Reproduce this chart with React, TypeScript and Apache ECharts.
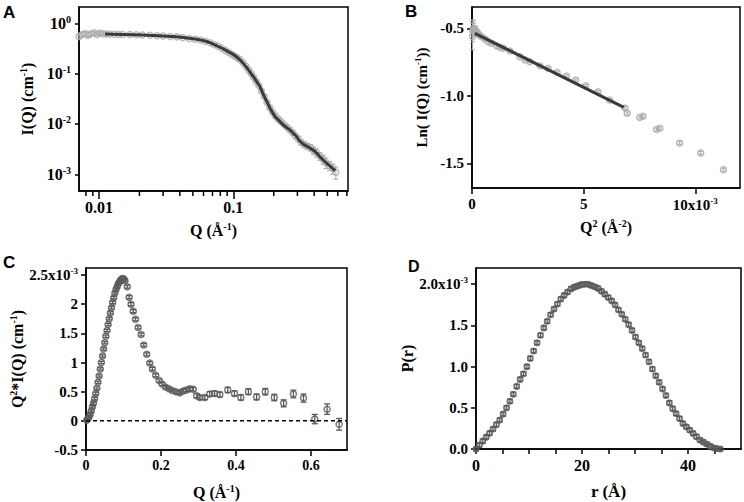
import React, { useEffect, useRef } from "react";
import * as echarts from "echarts";

const SERIF = '"Liberation Serif", "Times New Roman", serif';
const SANS = '"Liberation Sans", Arial, sans-serif';

// ---------------- Panel A : log-log I(Q) ----------------
// [Q (1/Å), I(Q) (1/cm), error]
const pointsA: [number, number, number][] = [
  [0.0071, 0.55, 0.05], [0.0075, 0.6, 0.05], [0.0079, 0.63, 0.05], [0.0083, 0.58, 0.05],
  [0.0087, 0.62, 0.05], [0.0092, 0.65, 0.04], [0.0097, 0.6, 0.04], [0.0102, 0.64, 0.04],
  [0.0107, 0.62, 0.03], [0.0113, 0.612, 0.03], [0.012, 0.61, 0.02], [0.013, 0.607, 0.02],
  [0.014, 0.603, 0.02], [0.015, 0.6, 0.015], [0.017, 0.597, 0.015], [0.019, 0.592, 0.012],
  [0.021, 0.586, 0.012], [0.024, 0.578, 0.01], [0.027, 0.568, 0.01], [0.03, 0.558, 0.01],
  [0.034, 0.548, 0.01], [0.038, 0.538, 0.01], [0.042, 0.52, 0.01], [0.047, 0.5, 0.01],
  [0.052, 0.483, 0.01], [0.057, 0.465, 0.01], [0.062, 0.44, 0.01], [0.067, 0.41, 0.01],
  [0.072, 0.38, 0.008], [0.077, 0.35, 0.008], [0.082, 0.32, 0.008], [0.087, 0.29, 0.006],
  [0.092, 0.265, 0.006], [0.097, 0.243, 0.006], [0.102, 0.225, 0.005], [0.107, 0.208, 0.005],
  [0.112, 0.19, 0.005], [0.118, 0.165, 0.004], [0.124, 0.14, 0.004], [0.13, 0.118, 0.004],
  [0.136, 0.1, 0.003], [0.142, 0.084, 0.003], [0.148, 0.07, 0.003], [0.155, 0.058, 0.002],
  [0.162, 0.045, 0.002], [0.17, 0.035, 0.0015], [0.178, 0.027, 0.0012], [0.187, 0.021, 0.001],
  [0.196, 0.0172, 0.0008], [0.205, 0.0145, 0.0008], [0.215, 0.0127, 0.0007], [0.226, 0.0112, 0.0007],
  [0.238, 0.0098, 0.0006], [0.25, 0.0087, 0.0006], [0.263, 0.0077, 0.0006], [0.277, 0.0067, 0.0006],
  [0.29, 0.0058, 0.0006], [0.305, 0.0051, 0.0006], [0.32, 0.0043, 0.0005], [0.337, 0.0039, 0.0005],
  [0.355, 0.0036, 0.0005], [0.375, 0.0034, 0.0005], [0.395, 0.003, 0.0005], [0.415, 0.0027, 0.0005],
  [0.44, 0.0023, 0.0004], [0.465, 0.002, 0.0004], [0.49, 0.0017, 0.0004], [0.52, 0.0015, 0.0003],
  [0.55, 0.0013, 0.0003], [0.58, 0.0011, 0.0003],
];
// fitted model curve [Q, I]
const fitA: [number, number][] = [
  [0.0111, 0.612], [0.015, 0.6], [0.0211, 0.586], [0.03, 0.562], [0.0374, 0.542], [0.047, 0.505],
  [0.0558, 0.472], [0.0635, 0.435], [0.0703, 0.392], [0.0796, 0.335], [0.0883, 0.29], [0.1, 0.24],
  [0.1095, 0.198], [0.1186, 0.16], [0.13, 0.118], [0.141, 0.087], [0.15, 0.068], [0.158, 0.055],
  [0.165, 0.042], [0.172, 0.033], [0.18, 0.026], [0.1877, 0.0205], [0.196, 0.0168], [0.204, 0.0142],
  [0.215, 0.0122], [0.229, 0.0103], [0.245, 0.0088], [0.264, 0.0076], [0.28, 0.0065], [0.296, 0.0056],
  [0.31, 0.0047], [0.323, 0.0042], [0.34, 0.0038], [0.362, 0.0035], [0.394, 0.003], [0.42, 0.0026],
  [0.443, 0.0022], [0.47, 0.0019], [0.496, 0.00165], [0.53, 0.00142], [0.573, 0.00118],
];
const aXRange = [0.0071, 0.714];
const aYRange = [0.000466, 2.11];
const aXTicks = [0.01, 0.1];
const aXMinorTicks = [0.008, 0.009, 0.02, 0.03, 0.04, 0.05, 0.06, 0.07, 0.08, 0.09, 0.2, 0.3, 0.4, 0.5, 0.6, 0.7];
const aYTicks = [0.001, 0.01, 0.1, 1];

// ---------------- Panel B : Guinier ----------------
// [Q^2 (x10^-3 Å^-2), ln I, error]
const pointsB: [number, number, number][] = [
  [0.02, -0.56, 0.1], [0.04, -0.52, 0.08], [0.06, -0.5, 0.06], [0.08, -0.51, 0.05],
  [0.1, -0.52, 0.04], [0.13, -0.515, 0.035], [0.16, -0.52, 0.03], [0.2, -0.525, 0.025],
  [0.25, -0.535, 0.02], [0.33, -0.55, 0.015], [0.43, -0.562, 0.012], [0.58, -0.579, 0.01],
  [0.73, -0.599, 0.01], [0.88, -0.611, 0.01], [1.1, -0.629, 0.008], [1.25, -0.641, 0.008],
  [1.4, -0.648, 0.008], [1.7, -0.668, 0.008], [2.14, -0.71, 0.008], [2.37, -0.735, 0.008],
  [2.59, -0.747, 0.008], [3.04, -0.777, 0.008], [3.41, -0.797, 0.008], [3.81, -0.826, 0.008],
  [4.23, -0.853, 0.008], [4.64, -0.883, 0.008], [5.09, -0.925, 0.008], [5.64, -0.97, 0.008],
  [6.16, -1.031, 0.008], [6.85, -1.09, 0.01], [6.95, -1.13, 0.01], [7.51, -1.161, 0.01],
  [7.66, -1.151, 0.01], [8.26, -1.25, 0.01], [8.41, -1.24, 0.01], [9.3, -1.349, 0.01],
  [10.24, -1.423, 0.01], [11.26, -1.547, 0.01],
];
const fitB: [number, number][] = [[0.13, -0.537], [6.8, -1.085]];
const bXRange = [0, 12];
const bYRange = [-1.683, -0.342];
const bXTicks = [0, 5, 10];
const bYTicks = [-1.5, -1.0, -0.5];

// ---------------- Panel C : Kratky ----------------
// [Q (1/Å), Q^2*I (x10^-3), error]
const pointsC: [number, number, number][] = [
  [0.002, 0.01, 0.02], [0.005, 0.03, 0.02], [0.008, 0.06, 0.02], [0.011, 0.11, 0.02],
  [0.014, 0.17, 0.02], [0.017, 0.24, 0.02], [0.02, 0.3, 0.02], [0.023, 0.38, 0.02],
  [0.026, 0.47, 0.02], [0.029, 0.56, 0.02], [0.032, 0.66, 0.02], [0.035, 0.77, 0.02],
  [0.038, 0.89, 0.02], [0.041, 1.0, 0.02], [0.044, 1.11, 0.02], [0.047, 1.23, 0.02],
  [0.05, 1.34, 0.02], [0.053, 1.45, 0.02], [0.056, 1.55, 0.02], [0.059, 1.65, 0.02],
  [0.062, 1.75, 0.02], [0.065, 1.85, 0.02], [0.068, 1.94, 0.02], [0.071, 2.03, 0.02],
  [0.074, 2.11, 0.02], [0.077, 2.19, 0.02], [0.08, 2.25, 0.02], [0.083, 2.3, 0.02],
  [0.086, 2.35, 0.02], [0.089, 2.38, 0.02], [0.092, 2.41, 0.02], [0.095, 2.43, 0.02],
  [0.098, 2.44, 0.02], [0.101, 2.43, 0.02], [0.104, 2.4, 0.02], [0.11, 2.3, 0.025],
  [0.115, 2.12, 0.025], [0.12, 2.0, 0.025], [0.126, 1.88, 0.025], [0.132, 1.74, 0.025],
  [0.139, 1.6, 0.025], [0.147, 1.48, 0.025], [0.154, 1.3, 0.025], [0.162, 1.14, 0.025],
  [0.17, 0.99, 0.025], [0.177, 0.89, 0.025], [0.186, 0.78, 0.025], [0.195, 0.69, 0.025],
  [0.203, 0.63, 0.025], [0.212, 0.58, 0.025], [0.221, 0.55, 0.025], [0.23, 0.52, 0.025],
  [0.24, 0.5, 0.03], [0.25, 0.48, 0.03], [0.259, 0.51, 0.03], [0.268, 0.53, 0.03],
  [0.277, 0.55, 0.03], [0.286, 0.54, 0.03], [0.295, 0.43, 0.035], [0.304, 0.4, 0.035],
  [0.317, 0.4, 0.035], [0.33, 0.46, 0.04], [0.343, 0.47, 0.04], [0.357, 0.45, 0.04],
  [0.378, 0.53, 0.045], [0.396, 0.47, 0.045], [0.413, 0.4, 0.045], [0.433, 0.5, 0.05],
  [0.455, 0.41, 0.05], [0.478, 0.5, 0.055], [0.502, 0.4, 0.055], [0.527, 0.3, 0.06],
  [0.553, 0.46, 0.065], [0.58, 0.39, 0.07], [0.61, 0.03, 0.08], [0.643, 0.2, 0.09],
  [0.675, -0.06, 0.1],
];
const cXRange = [0, 0.696];
const cYRange = [-0.5, 2.62];
const cXTicks = [0, 0.2, 0.4, 0.6];
const cYTicks = [-0.5, 0, 0.5, 1, 1.5, 2, 2.5];

// ---------------- Panel D : P(r) ----------------
// [r (Å), P(r) (x10^-3)]
const pointsD: [number, number][] = [
  [0, 0], [0.64, 0.048], [1.28, 0.096], [1.92, 0.144], [2.56, 0.192], [3.2, 0.243],
  [3.84, 0.296], [4.48, 0.353], [5.12, 0.424], [5.76, 0.5], [6.4, 0.58], [7.04, 0.665],
  [7.68, 0.76], [8.32, 0.845], [8.96, 0.913], [9.6, 1.0], [10.24, 1.1], [10.88, 1.19],
  [11.52, 1.29], [12.16, 1.38], [12.8, 1.47], [13.44, 1.55], [14.08, 1.63], [14.72, 1.7],
  [15.36, 1.76], [16.0, 1.82], [16.64, 1.865], [17.28, 1.905], [17.92, 1.945], [18.56, 1.965],
  [19.2, 1.98], [19.84, 1.995], [20.48, 2.0], [21.12, 2.0], [21.76, 1.985], [22.4, 1.97],
  [23.04, 1.95], [23.68, 1.915], [24.32, 1.88], [24.96, 1.84], [25.6, 1.8], [26.24, 1.75],
  [26.88, 1.69], [27.52, 1.635], [28.16, 1.575], [28.8, 1.51], [29.44, 1.44], [30.08, 1.36],
  [30.72, 1.29], [31.36, 1.22], [32.0, 1.14], [32.64, 1.06], [33.28, 0.97], [33.92, 0.89],
  [34.56, 0.81], [35.2, 0.73], [35.84, 0.65], [36.48, 0.56], [37.12, 0.49], [37.76, 0.43],
  [38.4, 0.37], [39.04, 0.31], [39.68, 0.27], [40.32, 0.23], [40.96, 0.19], [41.6, 0.15],
  [42.24, 0.11], [42.88, 0.085], [43.52, 0.06], [44.16, 0.035], [44.8, 0.015], [45.44, 0.005],
  [46.08, 0.0],
];
const errD = 0.025;
const dXRange = [0, 50];
const dYRange = [0, 2.197];
const dXTicks = [0, 5, 10, 15, 20, 25, 30, 35, 40, 45];
const dXLabels = [0, 20, 40];
const dYTicks = [0, 0.5, 1.0, 1.5, 2.0];

// ---------------- helpers ----------------
const BLACK = "#000";
const LIGHT = "#ababab";
const DARK = "#5a5a5a";
const FIT = "#3a3a3a";

const lineStyle = { color: BLACK, width: 1.5 };

function rich(fs: number) {
  return {
    t: { fontFamily: SERIF, fontWeight: "bold", fontSize: fs, color: BLACK, lineHeight: fs + 2 },
    b: { fontFamily: SERIF, fontWeight: "bold", fontSize: fs, color: BLACK, lineHeight: fs + 2 },
    s: {
      fontFamily: SERIF, fontWeight: "bold", fontSize: Math.round(fs * 0.62), color: BLACK,
      verticalAlign: "top", lineHeight: Math.round(fs * 0.62),
    },
  };
}

function axis(opts: any) {
  const { fs, ticks, labels, tickLen, formatter, name, nameGap, nameFs, ...rest } = opts;
  return {
    splitLine: { show: false },
    axisLine: { show: true, onZero: false, lineStyle },
    axisTick: { show: true, inside: false, length: tickLen ?? 6, lineStyle, customValues: ticks },
    axisLabel: {
      show: true,
      customValues: labels ?? ticks,
      fontFamily: SERIF,
      fontWeight: "bold",
      fontSize: fs,
      color: BLACK,
      formatter,
      rich: rich(fs),
    },
    name,
    nameLocation: "middle",
    nameGap,
    nameTextStyle: {
      fontFamily: SERIF, fontWeight: "bold", fontSize: nameFs ?? 16, color: BLACK, rich: rich(nameFs ?? 16),
    },
    ...rest,
  };
}

const errRender = (color: string, cap: number, lw: number) => (params: any, api: any) => {
  const x = api.value(0);
  const y = api.value(1);
  const e = api.value(2);
  const hi = api.coord([x, y + e]);
  const lo = api.coord([x, y - e]);
  const style = { stroke: color, lineWidth: lw, fill: "none" };
  return {
    type: "group",
    children: [
      { type: "line", shape: { x1: hi[0], y1: hi[1], x2: lo[0], y2: lo[1] }, style },
      { type: "line", shape: { x1: hi[0] - cap, y1: hi[1], x2: hi[0] + cap, y2: hi[1] }, style },
      { type: "line", shape: { x1: lo[0] - cap, y1: lo[1], x2: lo[0] + cap, y2: lo[1] }, style },
    ],
  };
};

const sup = (v: number) => {
  const n = Math.round(Math.log10(v));
  return `{b|10}{s|${n}}`;
};

export default function App() {
  const ref = useRef<HTMLDivElement>(null);

  useEffect(() => {
    if (!ref.current) return;
    const chart = echarts.init(ref.current, undefined, { renderer: "svg" });

    const option: any = {
      animation: false,
      backgroundColor: "#fff",
      grid: [
        { left: 79, top: 7, width: 269, height: 184, show: true, borderColor: BLACK, borderWidth: 1.5 },
        { left: 472, top: 7, width: 268, height: 181, show: true, borderColor: BLACK, borderWidth: 1.5 },
        { left: 86, top: 268, width: 261, height: 182, show: true, borderColor: BLACK, borderWidth: 1.5 },
        { left: 476, top: 268, width: 265, height: 181, show: true, borderColor: BLACK, borderWidth: 1.5 },
      ],
      xAxis: [
        axis({
          gridIndex: 0, type: "log", min: aXRange[0], max: aXRange[1], fs: 16, ticks: aXTicks, tickLen: 8,
          formatter: (v: number) => (Math.abs(v - 0.01) < 1e-9 ? "0.01" : "0.1"),
          name: "{t|Q (Å}{s|-1}{t|)}", nameGap: 30,
        }),
        axis({
          gridIndex: 1, type: "value", min: bXRange[0], max: bXRange[1], fs: 15, ticks: bXTicks,
          formatter: (v: number) => (v === 10 ? "{b|10x10}{s|-3}" : String(v)),
          name: "{t|Q}{s|2}{t| (Å}{s|-2}{t|)}", nameGap: 30,
        }),
        axis({
          gridIndex: 2, type: "value", min: cXRange[0], max: cXRange[1], fs: 14, ticks: cXTicks,
          formatter: (v: number) => String(Math.round(v * 10) / 10),
          name: "{t|Q (Å}{s|-1}{t|)}", nameGap: 33,
        }),
        axis({
          gridIndex: 3, type: "value", min: dXRange[0], max: dXRange[1], fs: 16, ticks: dXTicks,
          labels: dXLabels, tickLen: 5,
          formatter: (v: number) => String(v),
          name: "{t|r (Å)}", nameGap: 33, nameFs: 17,
        }),
      ],
      yAxis: [
        axis({
          gridIndex: 0, type: "log", min: aYRange[0], max: aYRange[1], fs: 16, ticks: aYTicks, tickLen: 4,
          formatter: (v: number) => sup(v),
          name: "{t|I(Q) (cm}{s|-1}{t|)}", nameGap: 43,
        }),
        axis({
          gridIndex: 1, type: "value", min: bYRange[0], max: bYRange[1], fs: 15, ticks: bYTicks, tickLen: 5,
          formatter: (v: number) => v.toFixed(1),
          name: "{t|Ln( I(Q) (cm}{s|-1}{t|))}", nameGap: 42, nameFs: 15,
        }),
        axis({
          gridIndex: 2, type: "value", min: cYRange[0], max: cYRange[1], fs: 15, ticks: cYTicks, tickLen: 5,
          formatter: (v: number) => (Math.abs(v - 2.5) < 1e-9 ? "{b|2.5x10}{s|-3}" : String(v)),
          name: "{t|Q}{s|2}{t|*I(Q) (cm}{s|-1}{t|)}", nameGap: 50,
        }),
        axis({
          gridIndex: 3, type: "value", min: dYRange[0], max: dYRange[1], fs: 15, ticks: dYTicks, tickLen: 5,
          formatter: (v: number) => (Math.abs(v - 2) < 1e-9 ? "{b|2.0x10}{s|-3}" : v.toFixed(1)),
          name: "{t|P(r)}", nameGap: 52,
        }),
      ],
      graphic: [
        { type: "text", x: 3, y: 4, style: { text: "A", font: `bold 17px ${SANS}`, fill: BLACK } },
        { type: "text", x: 405, y: 3, style: { text: "B", font: `bold 17px ${SANS}`, fill: BLACK } },
        { type: "text", x: 3, y: 254, style: { text: "C", font: `bold 17px ${SANS}`, fill: BLACK } },
        { type: "text", x: 408, y: 258, style: { text: "D", font: `bold 16px ${SANS}`, fill: BLACK } },
      ],
      series: [
        // Panel A
        {
          type: "custom", xAxisIndex: 0, yAxisIndex: 0, clip: false,
          renderItem: errRender(LIGHT, 2.5, 1), encode: { x: 0, y: 1 },
          data: pointsA,
        },
        {
          type: "scatter", xAxisIndex: 0, yAxisIndex: 0, symbol: "circle", symbolSize: 6,
          itemStyle: { color: "rgba(0,0,0,0)", borderColor: LIGHT, borderWidth: 1.5 },
          data: pointsA.map((p) => [p[0], p[1]]),
        },
        {
          type: "line", xAxisIndex: 0, yAxisIndex: 0, showSymbol: false, smooth: 0.2,
          lineStyle: { color: FIT, width: 3 }, data: fitA,
        },
        {
          type: "custom", xAxisIndex: 0, yAxisIndex: 0, clip: false, encode: { x: 0, y: 1 },
          renderItem: (params: any, api: any) => {
            const p = api.coord([api.value(0), api.value(1)]);
            return {
              type: "line",
              shape: { x1: p[0], y1: p[1], x2: p[0], y2: p[1] + 5 },
              style: { stroke: BLACK, lineWidth: 1.5 },
            };
          },
          data: aXMinorTicks.map((v) => [v, aYRange[0]]),
        },
        // Panel B
        {
          type: "custom", xAxisIndex: 1, yAxisIndex: 1, clip: false,
          renderItem: errRender(LIGHT, 2.5, 1), encode: { x: 0, y: 1 },
          data: pointsB,
        },
        {
          type: "scatter", xAxisIndex: 1, yAxisIndex: 1, symbol: "circle", symbolSize: 6,
          itemStyle: { color: "rgba(0,0,0,0)", borderColor: LIGHT, borderWidth: 1.5 },
          data: pointsB.map((p) => [p[0], p[1]]),
        },
        {
          type: "line", xAxisIndex: 1, yAxisIndex: 1, showSymbol: false,
          lineStyle: { color: FIT, width: 3 }, data: fitB,
        },
        // Panel C
        {
          type: "line", xAxisIndex: 2, yAxisIndex: 2, showSymbol: false,
          lineStyle: { color: BLACK, width: 1.5, type: [4, 3] },
          data: [[cXRange[0], 0], [cXRange[1], 0]],
        },
        {
          type: "custom", xAxisIndex: 2, yAxisIndex: 2, clip: false,
          renderItem: errRender(DARK, 3, 1.3), encode: { x: 0, y: 1 },
          data: pointsC,
        },
        {
          type: "scatter", xAxisIndex: 2, yAxisIndex: 2, symbol: "circle", symbolSize: 6,
          itemStyle: { color: "rgba(0,0,0,0)", borderColor: DARK, borderWidth: 1.5 },
          data: pointsC.map((p) => [p[0], p[1]]),
        },
        // Panel D
        {
          type: "custom", xAxisIndex: 3, yAxisIndex: 3, clip: false,
          renderItem: errRender(DARK, 3, 1.3), encode: { x: 0, y: 1 },
          data: pointsD.map((p) => [p[0], p[1], errD]),
        },
        {
          type: "scatter", xAxisIndex: 3, yAxisIndex: 3, symbol: "circle", symbolSize: 5,
          itemStyle: { color: "rgba(0,0,0,0)", borderColor: DARK, borderWidth: 2 },
          data: pointsD,
        },
      ],
    };

    chart.setOption(option);
    return () => chart.dispose();
  }, []);

  return (
    <div
      ref={ref}
      style={{ position: "fixed", left: 0, top: 0, width: 744, height: 502, background: "#fff" }}
    />
  );
}
